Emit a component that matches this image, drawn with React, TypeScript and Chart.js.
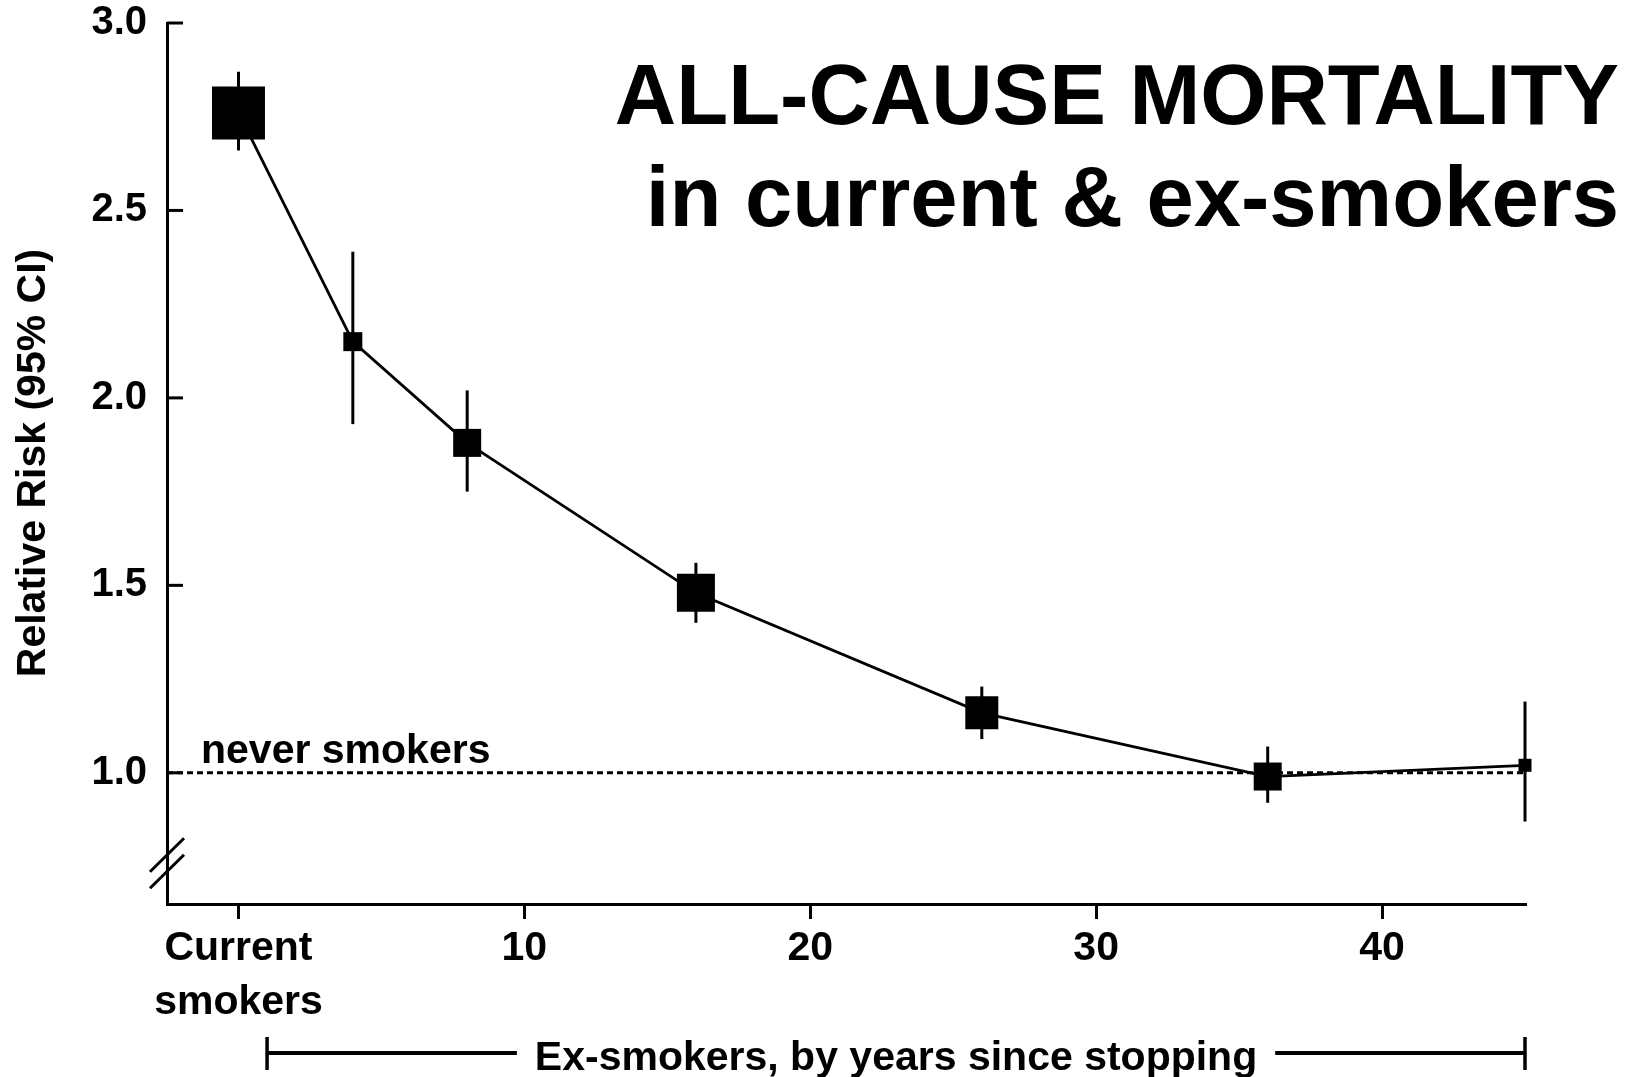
import React, { useEffect, useRef } from "react";
import { Chart, registerables } from "chart.js";

Chart.register(...registerables);

// ---- Data ----
const years = [0, 4, 8, 16, 26, 36, 45];
const relativeRisk = [2.76, 2.15, 1.88, 1.48, 1.16, 0.99, 1.02];
const ciLower = [2.66, 1.93, 1.75, 1.4, 1.09, 0.92, 0.87];
const ciUpper = [2.87, 2.39, 2.02, 1.56, 1.23, 1.07, 1.19];
const markerSides = [53, 19, 28, 38, 33, 28, 13];
const xTickValues = [0, 10, 20, 30, 40];
const yTickValues = [1.0, 1.5, 2.0, 2.5, 3.0];
const neverSmokersRR = 1.0;
const exSmokerSpan = [1, 45];
const xRange = [-2.5, 45];
const yRange = [0.65, 3.0];

const FONT = "'Liberation Sans', Arial, Helvetica, sans-serif";

const overlayPlugin = {
  id: "overlay",
  afterDatasetsDraw(chart: any) {
    const ctx = chart.ctx;
    const x = chart.scales.x;
    const y = chart.scales.y;
    ctx.save();
    ctx.strokeStyle = "#000";
    ctx.lineWidth = 3;
    ctx.lineCap = "butt";
    years.forEach((yr, i) => {
      const px = x.getPixelForValue(yr);
      ctx.beginPath();
      ctx.moveTo(px, y.getPixelForValue(ciLower[i]));
      ctx.lineTo(px, y.getPixelForValue(ciUpper[i]));
      ctx.stroke();
    });
    ctx.restore();
  },
  afterDraw(chart: any) {
    const ctx = chart.ctx;
    const x = chart.scales.x;
    const y = chart.scales.y;
    const area = chart.chartArea;
    ctx.save();
    ctx.fillStyle = "#000";
    ctx.strokeStyle = "#000";

    // inward y ticks + y tick labels
    ctx.lineWidth = 3;
    ctx.font = `bold 40px ${FONT}`;
    ctx.textAlign = "right";
    ctx.textBaseline = "middle";
    y.ticks.forEach((t: any) => {
      const py = y.getPixelForValue(t.value);
      ctx.beginPath();
      ctx.moveTo(area.left, py);
      ctx.lineTo(area.left + 16, py);
      ctx.stroke();
      ctx.fillText(Number(t.value).toFixed(1), area.left - 20, py);
    });

    // axis break
    const bx = area.left;
    ctx.lineWidth = 3;
    [855, 871.5].forEach((cy) => {
      ctx.beginPath();
      ctx.moveTo(bx - 17, cy + 16.7);
      ctx.lineTo(bx + 17, cy - 16.7);
      ctx.stroke();
    });

    // title
    ctx.font = `bold 85px ${FONT}`;
    ctx.textAlign = "right";
    ctx.textBaseline = "alphabetic";
    ctx.fillText("ALL-CAUSE MORTALITY", 1619, 124);
    ctx.fillText("in current & ex-smokers", 1619, 226);

    // never smokers label
    ctx.font = `bold 41px ${FONT}`;
    ctx.textAlign = "left";
    ctx.fillText("never smokers", area.left + 34, y.getPixelForValue(neverSmokersRR) - 10);

    // y axis title
    ctx.save();
    ctx.translate(45, 463);
    ctx.rotate(-Math.PI / 2);
    ctx.textAlign = "center";
    ctx.font = `bold 41px ${FONT}`;
    ctx.fillText("Relative Risk (95% CI)", 0, 0);
    ctx.restore();

    // ex-smokers bracket
    const x1 = x.getPixelForValue(exSmokerSpan[0]);
    const x2 = x.getPixelForValue(exSmokerSpan[1]);
    const by = 1053;
    const label = "Ex-smokers, by years since stopping";
    ctx.font = `bold 41px ${FONT}`;
    const tw = ctx.measureText(label).width;
    const mid = (x1 + x2) / 2;
    ctx.textAlign = "center";
    ctx.fillText(label, mid, 1070);
    ctx.lineWidth = 4;
    ctx.beginPath();
    ctx.moveTo(x1, by);
    ctx.lineTo(mid - tw / 2 - 18, by);
    ctx.moveTo(mid + tw / 2 + 18, by);
    ctx.lineTo(x2, by);
    ctx.stroke();
    ctx.lineWidth = 3.5;
    ctx.beginPath();
    ctx.moveTo(x1, 1037);
    ctx.lineTo(x1, 1070);
    ctx.moveTo(x2, 1037);
    ctx.lineTo(x2, 1070);
    ctx.stroke();

    ctx.restore();
  },
};

export default function App() {
  const canvasRef = useRef<HTMLCanvasElement | null>(null);

  useEffect(() => {
    const canvas = canvasRef.current;
    if (!canvas) return;
    const chart = new Chart(canvas, {
      type: "line",
      data: {
        datasets: [
          {
            label: "Relative risk",
            data: years.map((yr, i) => ({ x: yr, y: relativeRisk[i] })),
            borderColor: "#000",
            borderWidth: 2.8,
            backgroundColor: "#000",
            pointStyle: "rect",
            pointRadius: markerSides.map((s) => s / Math.SQRT2),
            pointHoverRadius: markerSides.map((s) => s / Math.SQRT2),
            pointBackgroundColor: "#000",
            pointBorderWidth: 0,
            tension: 0,
            clip: false as any,
            order: 0,
          },
          {
            label: "Never smokers",
            data: [
              { x: xRange[0], y: neverSmokersRR },
              { x: xRange[1], y: neverSmokersRR },
            ],
            borderColor: "#000",
            borderWidth: 3,
            borderDash: [6, 4],
            pointRadius: 0,
            order: 1,
          },
        ],
      },
      options: {
        animation: false,
        responsive: false,
        maintainAspectRatio: false,
        events: [],
        layout: {
          autoPadding: false,
          padding: { top: 23, right: 116, left: 0, bottom: 0 },
        },
        plugins: {
          legend: { display: false },
          tooltip: { enabled: false },
          title: { display: false },
        },
        scales: {
          x: {
            type: "linear",
            min: xRange[0],
            max: xRange[1],
            afterBuildTicks: (scale: any) => {
              scale.ticks = xTickValues.map((v) => ({ value: v }));
            },
            afterFit: (scale: any) => {
              scale.height = 173;
              scale.paddingLeft = 0;
              scale.paddingRight = 0;
            },
            ticks: {
              autoSkip: false,
              maxRotation: 0,
              minRotation: 0,
              padding: 3,
              color: "#000",
              font: { family: FONT, weight: "bold", size: 41, lineHeight: 1.32 },
              callback: (v: any) => (v === 0 ? ["Current", "smokers"] : String(v)),
            },
            grid: {
              display: true,
              drawOnChartArea: false,
              drawTicks: true,
              tickLength: 15,
              tickWidth: 3,
              lineWidth: 3,
              color: "#000",
              tickColor: "#000",
            },
            border: { display: true, color: "#000", width: 3 },
          },
          y: {
            type: "linear",
            min: yRange[0],
            max: yRange[1],
            afterBuildTicks: (scale: any) => {
              scale.ticks = yTickValues.map((v) => ({ value: v }));
            },
            afterFit: (scale: any) => {
              scale.width = 167;
              scale.paddingTop = 0;
              scale.paddingBottom = 0;
            },
            ticks: {
              display: false,
            },
            grid: {
              display: true,
              drawOnChartArea: false,
              drawTicks: false,
              color: "#000",
            },
            border: { display: true, color: "#000", width: 3 },
          },
        },
      } as any,
      plugins: [overlayPlugin],
    });
    return () => chart.destroy();
  }, []);

  return (
    <div
      style={{
        position: "fixed",
        left: 0,
        top: 0,
        width: 1641,
        height: 1077,
        background: "#fff",
      }}
    >
      <canvas
        ref={canvasRef}
        width={1641}
        height={1077}
        style={{ width: 1641, height: 1077, display: "block" }}
      />
    </div>
  );
}
